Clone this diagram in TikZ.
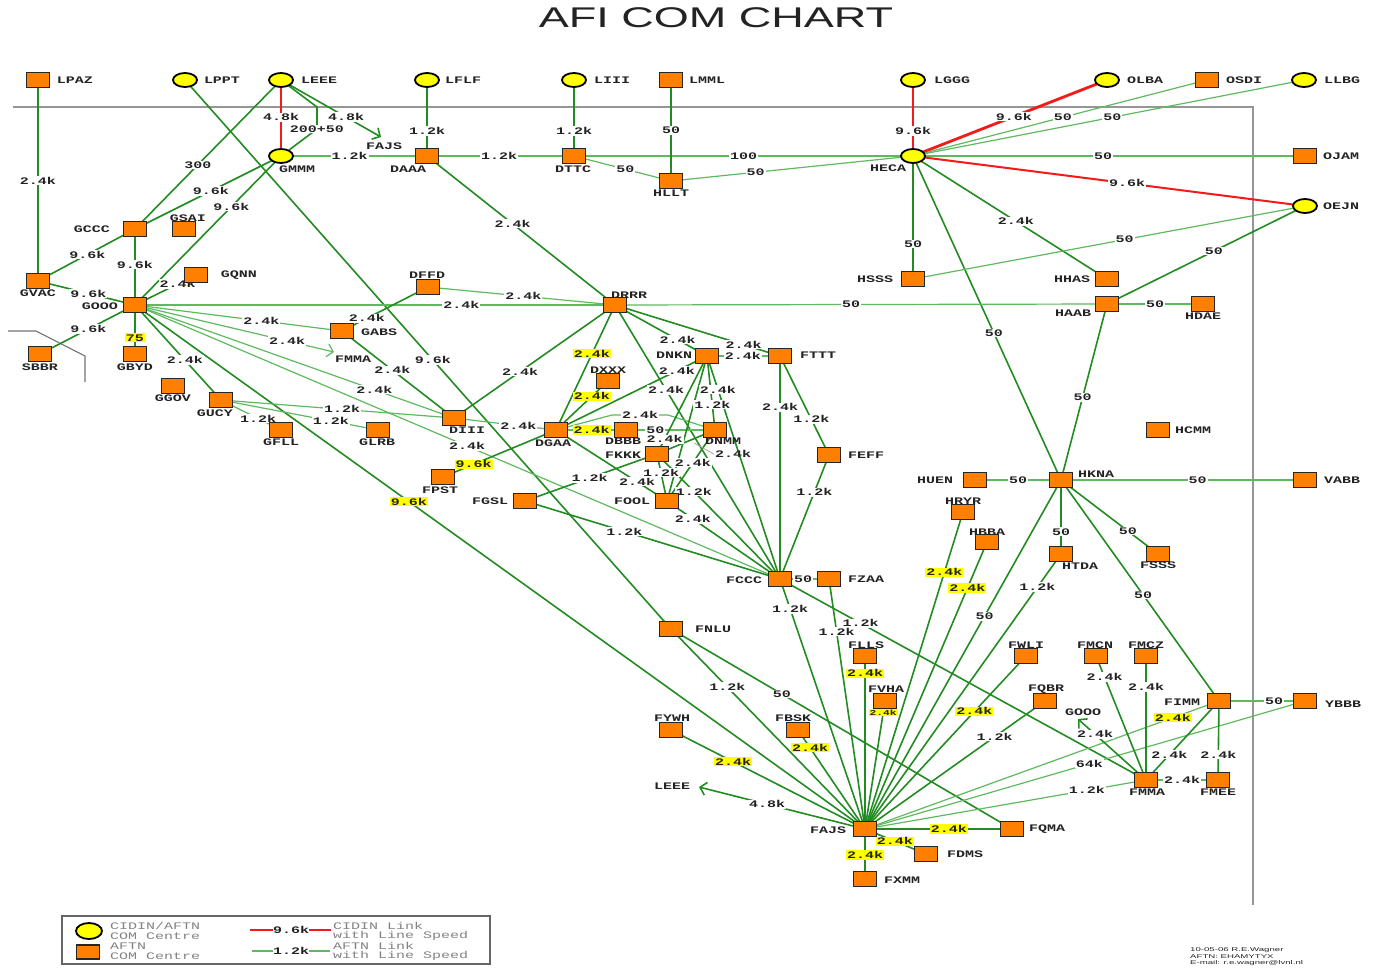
\documentclass[tikz,border=0pt]{standalone}
\usepackage{fontspec}
\setmainfont{Liberation Sans}
\newfontfamily\wf[FakeStretch=1.5]{Liberation Mono}
\usetikzlibrary{calc,arrows.meta,shapes.geometric}
\pgfdeclarelayer{edges}\pgfdeclarelayer{labs}
\pgfsetlayers{edges,labs,main}
\definecolor{gdk}{RGB}{34,139,34}
\definecolor{glt}{RGB}{95,185,95}
\definecolor{rd}{RGB}{245,25,25}
\definecolor{org}{RGB}{255,128,0}
\definecolor{yel}{RGB}{255,255,0}
\definecolor{frm}{RGB}{150,150,150}
\definecolor{txt}{RGB}{35,35,35}
\definecolor{lgt}{RGB}{130,130,130}
\tikzset{
 bx/.style={rectangle,draw=black!85,fill=org,line width=1.3pt,minimum width=23.5pt,minimum height=15pt,inner sep=0pt},
 cc/.style={ellipse,draw=black,fill=yel,line width=1.8pt,minimum width=24pt,minimum height=14pt,inner sep=0pt},
 nm/.style={font=\wf\bfseries\fontsize{10}{11}\selectfont,text=txt,inner sep=0pt},
 sp/.style={fill=white,inner sep=1pt,font=\wf\bfseries\fontsize{10}{11}\selectfont,text=txt},
 ysp/.style={sp,fill=yel},
 lgtext/.style={font=\wf\fontsize{10}{11}\selectfont,text=lgt,inner sep=0pt,anchor=west},
 gl/.style={draw=gdk,line width=1.6pt},
 gt/.style={draw=glt,line width=1.2pt},
 rl/.style={draw=rd,line width=2.8pt},
 arr/.style={-{Straight Barb[length=6pt,width=13pt]}},
 frame/.style={draw=frm,line width=1.6pt},
}
\newcount\lbn
\newcommand\lkg[6]{%
 \begin{pgfonlayer}{edges}\draw[gl,#2] (#3.center) -- (#4.center);\end{pgfonlayer}%
 \global\advance\lbn by 1
 \edef\lbnm{lb\the\lbn}%
 \begin{pgfonlayer}{labs}\node[#1] (\lbnm) at ($(#3.center)!#5!(#4.center)$) {#6};\end{pgfonlayer}}
\newcommand\lk[5][]{\lkg{sp}{#1}{#2}{#3}{#4}{#5}}
\newcommand\ly[5][]{\lkg{ysp}{#1}{#2}{#3}{#4}{#5}}
\newcommand\lno[3][]{\begin{pgfonlayer}{edges}\draw[gl,#1] (#2.center) -- (#3.center);\end{pgfonlayer}}
\newcommand\bxn[3]{\node[bx] (#1) at (#2) {}; \node[nm] (t#1) at (#3) {#1};}
\newcommand\ccn[3]{\node[cc] (#1) at (#2) {}; \node[nm] (t#1) at (#3) {#1};}
\begin{document}
\begin{tikzpicture}[x=1pt,y=-1pt]
\useasboundingbox (0,0) rectangle (1376,967);
\node[text=txt] (title) at (716,18) {\scalebox{1.58}[1]{\fontsize{28.5}{30}\selectfont AFI COM CHART}};
% frame
\begin{pgfonlayer}{edges}
\draw[frame] (13,107) -- (1253,107) -- (1253,905);
\draw[draw=black!55,line width=1.1pt] (8,331) -- (36,331) -- (85,356) -- (85,382);
\end{pgfonlayer}
% nodes
\bxn{LPAZ}{38,80}{75,80}
\ccn{LPPT}{185,80}{222,80}
\ccn{LEEE}{281,80}{319,80}
\ccn{LFLF}{427,80}{463,80}
\ccn{LIII}{574,80}{612,80}
\bxn{LMML}{671,80}{707,80}
\ccn{LGGG}{913,80}{952,80}
\ccn{OLBA}{1107,80}{1145,80}
\bxn{OSDI}{1207,80}{1244,80}
\ccn{LLBG}{1304,80}{1342,80}
\ccn{GMMM}{281,156}{297,169}
\bxn{DAAA}{427,156}{408,169}
\bxn{DTTC}{574,156}{573,169}
\bxn{HLLT}{671,181}{671,193}
\ccn{HECA}{913,156}{888,168}
\bxn{OJAM}{1305,156}{1341,156}
\ccn{OEJN}{1305,206}{1341,206}
\bxn{GCCC}{135,229}{92,229}
\bxn{GSAI}{184,229}{188,218}
\bxn{GQNN}{196,275}{239,275}
\bxn{GVAC}{38,281}{38,293}
\bxn{GOOO}{135,305}{100,306}
\bxn{SBBR}{40,354}{40,367}
\bxn{GBYD}{135,354}{135,367}
\bxn{GGOV}{173,386}{173,398}
\bxn{GUCY}{221,400}{215,413}
\bxn{GFLL}{281,430}{281,442}
\bxn{GLRB}{378,430}{377,442}
\bxn{GABS}{342,331}{379,332}
\bxn{DFFD}{428,287}{427,275}
\bxn{DIII}{454,418}{467,430}
\bxn{DRRR}{615,305}{629,295}
\bxn{DNKN}{707,356}{674,355}
\bxn{FTTT}{780,356}{818,355}
\bxn{DXXX}{608,381}{608,370}
\bxn{DGAA}{556,430}{553,443}
\bxn{DBBB}{626,430}{623,441}
\bxn{DNMM}{715,430}{723,441}
\bxn{FKKK}{657,454}{623,455}
\bxn{FEFF}{829,455}{866,455}
\bxn{FPST}{443,477}{440,490}
\bxn{FGSL}{525,501}{490,501}
\bxn{FOOL}{667,501}{632,501}
\bxn{FCCC}{780,579}{744,580}
\bxn{FZAA}{829,579}{866,579}
\bxn{FNLU}{671,629}{713,629}
\bxn{FLLS}{865,656}{866,645}
\bxn{FVHA}{885,701}{886,689}
\bxn{FYWH}{671,730}{672,718}
\bxn{FBSK}{798,730}{793,718}
\bxn{FAJS}{865,829}{828,830}
\bxn{FDMS}{926,854}{965,854}
\bxn{FXMM}{865,879}{902,880}
\bxn{FQMA}{1012,829}{1047,829}
\bxn{HSSS}{913,279}{875,279}
\bxn{HHAS}{1107,279}{1072,279}
\bxn{HAAB}{1107,304}{1073,313}
\bxn{HDAE}{1203,304}{1203,316}
\bxn{HCMM}{1158,430}{1193,430}
\bxn{HUEN}{975,480}{935,480}
\bxn{HKNA}{1061,480}{1096,474}
\bxn{VABB}{1305,480}{1342,480}
\bxn{HRYR}{963,512}{963,501}
\bxn{HBBA}{987,542}{987,532}
\bxn{HTDA}{1061,554}{1080,566}
\bxn{FSSS}{1158,554}{1158,565}
\bxn{FWLI}{1026,656}{1026,645}
\bxn{FMCN}{1096,656}{1095,645}
\bxn{FMCZ}{1146,656}{1146,645}
\bxn{FQBR}{1045,701}{1046,689}
\bxn{FIMM}{1219,701}{1182,702}
\bxn{YBBB}{1305,701}{1343,704}
\bxn{FMMA}{1146,780}{1147,792}
\bxn{FMEE}{1218,780}{1218,792}
% arrow texts
\node[nm] (xFAJS) at (384,146) {FAJS};
\node[nm] (xFMMA) at (353,359) {FMMA};
\node[nm] (xLEEE) at (672,786) {LEEE};
\node[nm] (xGOOO) at (1083,712) {GOOO};
\coordinate (aFAJS) at (381,137);
\coordinate (aFMMA) at (334,352);
\coordinate (aLEEE) at (699,787);
\coordinate (aGOOO) at (1078,719);
\coordinate (k1) at (317,107);
\coordinate (k2) at (317,129);
\coordinate (k3) at (612,415);
\coordinate (k4) at (668,415);
% links
\lk{LPAZ}{GVAC}{0.5}{2.4k}
\lk{LPPT}{FNLU}{0.51}{9.6k}
\lk{LEEE}{GCCC}{0.57}{300}
\lk[rl]{LEEE}{GMMM}{0.49}{4.8k}
\begin{pgfonlayer}{edges}\draw[gl] (LEEE.center) -- (k1) -- (k2) -- (GMMM.center);\end{pgfonlayer}
\begin{pgfonlayer}{labs}\node[sp] (l200) at (k2) {200+50};\end{pgfonlayer}
\lk[arr]{LEEE}{aFAJS}{0.65}{4.8k}
\lk{LFLF}{DAAA}{0.67}{1.2k}
\lk[gt]{GMMM}{DAAA}{0.47}{1.2k}
\lk{GMMM}{GCCC}{0.48}{9.6k}
\lk{GMMM}{GOOO}{0.34}{9.6k}
\lk[gt]{DAAA}{DTTC}{0.49}{1.2k}
\lk{DAAA}{DRRR}{0.455}{2.4k}
\lk{LIII}{DTTC}{0.67}{1.2k}
\lk[gt]{DTTC}{HECA}{0.5}{100}
\lk[gt]{DTTC}{HLLT}{0.53}{50}
\lk{LMML}{HLLT}{0.5}{50}
\lk[gt]{HLLT}{HECA}{0.35}{50}
\lk[rl]{LGGG}{HECA}{0.67}{9.6k}
\lk[rl]{OLBA}{HECA}{0.48}{9.6k}
\lk[gt]{OSDI}{HECA}{0.49}{50}
\lk[gt]{LLBG}{HECA}{0.49}{50}
\lk[gt]{HECA}{OJAM}{0.485}{50}
\lk[rl,line width=2pt]{HECA}{OEJN}{0.546}{9.6k}
\lk{HECA}{HSSS}{0.715}{50}
\lk{HECA}{HHAS}{0.53}{2.4k}
\lk{HECA}{HKNA}{0.546}{50}
\lk[gt]{OEJN}{HSSS}{0.46}{50}
\lk{OEJN}{HAAB}{0.46}{50}
\lk[gt]{HAAB}{HDAE}{0.5}{50}
\lk{HAAB}{HKNA}{0.53}{50}
\lk[gt]{DRRR}{HAAB}{0.48}{50}
\lk[gt]{GOOO}{DRRR}{0.68}{2.4k}
\lk[gt]{DFFD}{DRRR}{0.51}{2.4k}
\lk{DFFD}{GABS}{0.71}{2.4k}
\lk{GCCC}{GVAC}{0.49}{9.6k}
\lk{GCCC}{GOOO}{0.47}{9.6k}
\lk{GVAC}{GOOO}{0.52}{9.6k}
\lk{GOOO}{SBBR}{0.49}{9.6k}
\ly{GOOO}{GBYD}{0.67}{75}
\lk{GOOO}{GQNN}{0.70}{2.4k}
\lk[gt]{GOOO}{GABS}{0.61}{2.4k}
\lk[gt,arr]{GOOO}{aFMMA}{0.765}{2.4k}
\lk{GOOO}{GUCY}{0.58}{2.4k}
\lk[gt]{GOOO}{DIII}{0.75}{2.4k}
\lk[gt]{GOOO}{FCCC}{0.515}{2.4k}
\ly{GOOO}{FAJS}{0.375}{9.6k}
\lk{GABS}{DIII}{0.45}{2.4k}
\lk[gt]{GUCY}{GFLL}{0.62}{1.2k}
\lk[gt]{GUCY}{GLRB}{0.70}{1.2k}
\lk[gt]{GUCY}{DIII}{0.52}{1.2k}
\lk[gt]{DIII}{DGAA}{0.63}{2.4k}
\lk{DIII}{DRRR}{0.41}{2.4k}
\ly{DRRR}{DGAA}{0.39}{2.4k}
\lk{DRRR}{FCCC}{0.31}{2.4k}
\lk{DRRR}{DNKN}{0.68}{2.4k}
\lk{DRRR}{FTTT}{0.78}{2.4k}
\lk[gt]{DNKN}{FTTT}{0.49}{2.4k}
\ly{DXXX}{DGAA}{0.31}{2.4k}
\ly[gt]{DGAA}{DBBB}{0.51}{2.4k}
\begin{pgfonlayer}{edges}\draw[gt] (DGAA.center) -- (k3) -- (k4) -- (DNMM.center);\end{pgfonlayer}
\begin{pgfonlayer}{labs}\node[sp] (lgaa) at ($(k3)!0.5!(k4)$) {2.4k};\end{pgfonlayer}
\lk[gt]{DBBB}{DNMM}{0.33}{50}
\lk{DGAA}{DNKN}{0.80}{2.4k}
\ly{DGAA}{FPST}{0.73}{9.6k}
\lk{DGAA}{FOOL}{0.73}{2.4k}
\lk{DNKN}{DNMM}{0.66}{1.2k}
\lk{DNKN}{FKKK}{0.85}{2.4k}
\lno{DNKN}{FOOL}
\lk{DNMM}{FOOL}{0.46}{2.4k}
\lno{DNMM}{FKKK}
\lk{FKKK}{FOOL}{0.40}{1.2k}
\lk{FKKK}{FCCC}{0.30}{1.2k}
\lk{FGSL}{FKKK}{0.49}{1.2k}
\lk{FGSL}{FCCC}{0.39}{1.2k}
\lk{FOOL}{FCCC}{0.23}{2.4k}
\lk{DNKN}{FCCC}{0.15}{2.4k}
\lk{FTTT}{FCCC}{0.23}{2.4k}
\lk{FTTT}{FEFF}{0.64}{1.2k}
\lk{FEFF}{FCCC}{0.30}{1.2k}
\lk[gt]{FCCC}{FZAA}{0.47}{50}
\lk{FCCC}{FAJS}{0.12}{1.2k}
\lk{FCCC}{FMMA}{0.22}{1.2k}
\lk{FZAA}{FAJS}{0.21}{1.2k}
\lk{FNLU}{FAJS}{0.29}{1.2k}
\lk{FNLU}{FQMA}{0.325}{50}
\ly{FLLS}{FAJS}{0.10}{2.4k}
\lkg{ysp,font=\wf\bfseries\fontsize{7.5}{8}\selectfont}{}{FVHA}{FAJS}{0.09}{2.4k}
\ly{FYWH}{FAJS}{0.32}{2.4k}
\ly{FBSK}{FAJS}{0.18}{2.4k}
\lk[arr]{FAJS}{aLEEE}{0.59}{4.8k}
\ly{FAJS}{FQMA}{0.57}{2.4k}
\ly{FAJS}{FDMS}{0.49}{2.4k}
\ly{FAJS}{FXMM}{0.52}{2.4k}
\ly{HRYR}{FAJS}{0.19}{2.4k}
\ly{HBBA}{FAJS}{0.16}{2.4k}
\lk{HKNA}{FAJS}{0.39}{50}
\lk{HTDA}{FAJS}{0.12}{1.2k}
\ly{FWLI}{FAJS}{0.32}{2.4k}
\lk{FQBR}{FAJS}{0.28}{1.2k}
\ly[gt]{FIMM}{FAJS}{0.13}{2.4k}
\lk[gt]{YBBB}{FAJS}{0.49}{64k}
\lk[gt]{FMMA}{FAJS}{0.21}{1.2k}
\lk{FMCN}{FMMA}{0.17}{2.4k}
\lk{FMCZ}{FMMA}{0.25}{2.4k}
\lk{FIMM}{FMMA}{0.68}{2.4k}
\lk{FIMM}{FMEE}{0.68}{2.4k}
\lk[gt]{FMMA}{FMEE}{0.5}{2.4k}
\lk[arr]{FMMA}{aGOOO}{0.75}{2.4k}
\lk[gt]{FIMM}{YBBB}{0.64}{50}
\lk{HKNA}{FIMM}{0.52}{50}
\lk[gt]{HKNA}{HUEN}{0.5}{50}
\lk[gt]{HKNA}{VABB}{0.56}{50}
\lk{HKNA}{HTDA}{0.70}{50}
\lk{HKNA}{FSSS}{0.69}{50}
% callout label
\coordinate (ldr) at (694,443);
\begin{pgfonlayer}{labs}
\node[sp,fill=none] (lcall) at (733,454) {2.4k};
\draw[draw=black!35,line width=0.8pt] (ldr) -- (lcall.west);
\end{pgfonlayer}
% legend
\draw[draw=black!60,line width=1.3pt] (62,916) rectangle (490,964);
\node[cc,minimum width=26pt,minimum height=16pt] (lgC) at (89,931) {};
\node[bx,minimum height=14pt] (lgB) at (88,952) {};
\node[lgtext] (lg1) at (110,926) {CIDIN/AFTN};
\node[lgtext] (lg2) at (110,936) {COM Centre};
\node[lgtext] (lg3) at (110,946) {AFTN};
\node[lgtext] (lg4) at (110,956) {COM Centre};
\node[lgtext] (lg5) at (333,926) {CIDIN Link};
\node[lgtext] (lg6) at (333,936) {with Line Speed};
\node[lgtext] (lg7) at (333,946) {AFTN Link};
\node[lgtext] (lg8) at (333,956) {with Line Speed};
\node[nm] (lg96) at (291,930) {9.6k};
\node[nm] (lg12) at (291,951) {1.2k};
\coordinate (lr1) at (250,930); \coordinate (lr2) at (331,930);
\coordinate (lg1a) at (252,951); \coordinate (lg1b) at (330,951);
\draw[rl,line width=2pt] (lr1) -- (lg96.west);
\draw[rl,line width=2pt] (lg96.east) -- (lr2);
\draw[gt] (lg1a) -- (lg12.west);
\draw[gt] (lg12.east) -- (lg1b);
% credits
\node[anchor=west,inner sep=0pt,text=txt] (cr1) at (1190,950) {\scalebox{1.75}[1]{\fontsize{5.5}{6}\selectfont 10-05-06 R.E.Wagner}};
\node[anchor=west,inner sep=0pt,text=txt] (cr2) at (1190,957) {\scalebox{1.75}[1]{\fontsize{5.5}{6}\selectfont AFTN: EHAMYTYX}};
\node[anchor=west,inner sep=0pt,text=txt] (cr3) at (1190,963.5) {\scalebox{1.75}[1]{\fontsize{5.5}{6}\selectfont E-mail: r.e.wagner@lvnl.nl}};
\end{tikzpicture}
\end{document}
